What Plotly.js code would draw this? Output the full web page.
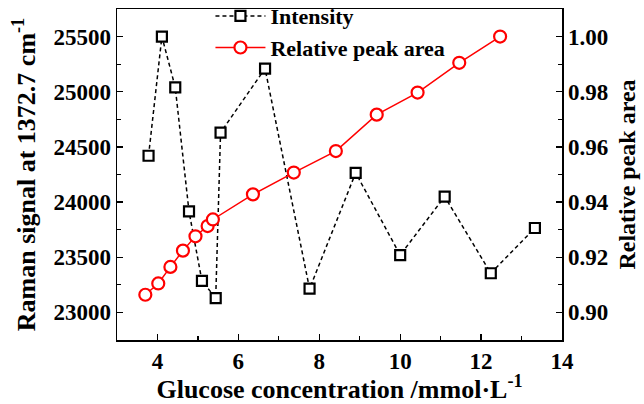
<!DOCTYPE html>
<html>
<head>
<meta charset="utf-8">
<script src="https://cdn.plot.ly/plotly-3.0.1.min.js"></script>
<style>html,body{margin:0;padding:0;background:#fff;}#chart{width:644px;height:404px;}</style>
</head>
<body>
<div id="chart"></div>
<script>
const intensityX = [3.78, 4.11, 4.44, 4.78, 5.10, 5.44, 5.56, 6.66, 7.76, 8.90, 10.00, 11.10, 12.24, 13.33];
const intensityY = [24420, 25500, 25040, 23915, 23285, 23130, 24630, 25210, 23215, 24265, 23520, 24050, 23355, 23765];
const areaX = [3.70, 4.02, 4.32, 4.63, 4.94, 5.24, 5.37, 6.36, 7.37, 8.41, 9.42, 10.43, 11.46, 12.47];
const areaY = [0.9064, 0.9105, 0.9165, 0.9224, 0.9276, 0.9313, 0.9337, 0.9428, 0.9507, 0.9585, 0.9717, 0.9797, 0.9905, 1.0000];
const xTitle = 'Glucose concentration /mmol·L<sup>-1</sup>';
const yTitle = 'Raman signal at 1372.7 cm<sup>-1</sup>';
const y2Title = 'Relative peak area';

const fam = '"Liberation Serif", "Times New Roman", serif';
const f = (size) => ({family: fam, size: size, color: '#000', weight: 'bold'});

const traces = [
  {x: intensityX, y: intensityY, name: 'Intensity', type: 'scatter', mode: 'lines+markers',
   line: {color: '#000', width: 1.5, dash: '4px,3px'},
   marker: {symbol: 'square', size: 10, color: '#fff', line: {width: 2.2, color: '#000'}},
   yaxis: 'y'},
  {x: areaX, y: areaY, name: 'Relative peak area', type: 'scatter', mode: 'lines+markers',
   line: {color: '#ff0000', width: 1.5},
   marker: {symbol: 'circle', size: 12, color: '#fff', line: {width: 2.2, color: '#ff0000'}},
   yaxis: 'y2'}
];

const axisBase = {ticks: 'inside', ticklen: 6, tickwidth: 1.2, tickcolor: '#000',
  showline: true, linecolor: '#000', linewidth: 1.5, showgrid: false, zeroline: false,
  tickfont: f(23)};

const layout = {
  width: 644, height: 404,
  margin: {l: 117, r: 82, t: 9, b: 64, autoexpand: false},
  paper_bgcolor: '#fff', plot_bgcolor: '#fff',
  font: f(22),
  showlegend: true,
  legend: {x: 0.21, y: 1.042, xanchor: 'left', yanchor: 'top', bgcolor: 'rgba(0,0,0,0)',
           font: f(22), itemwidth: 50, tracegroupgap: 0},
  xaxis: Object.assign({}, axisBase, {range: [3, 14], dtick: 2, tick0: 0, mirror: true,
          minor: {dtick: 1, ticks: 'inside', ticklen: 4, tickcolor: '#000', showgrid: false},
          title: {text: xTitle, font: f(26), standoff: 2}}),
  yaxis: Object.assign({}, axisBase, {range: [22750, 25750], dtick: 500, tick0: 0, tickformat: 'd',
          minor: {dtick: 250, ticks: 'inside', ticklen: 4, tickcolor: '#000', showgrid: false},
          title: {text: yTitle, font: f(26), standoff: 10}}),
  yaxis2: Object.assign({}, axisBase, {range: [0.89, 1.01], dtick: 0.02, tick0: 0, overlaying: 'y', side: 'right',
          tickformat: '.2f',
          minor: {dtick: 0.01, ticks: 'inside', ticklen: 4, tickcolor: '#000', showgrid: false},
          title: {text: y2Title, font: f(24), standoff: 10}})
};

Plotly.newPlot('chart', traces, layout, {displayModeBar: false, staticPlot: true});
</script>
</body>
</html>
